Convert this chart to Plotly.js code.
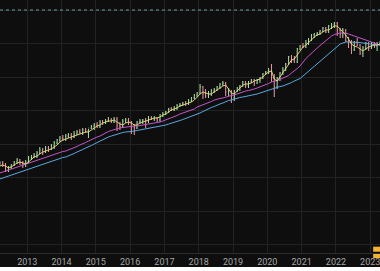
<!DOCTYPE html>
<html>
<head>
<meta charset="utf-8">
<script src="https://cdn.plot.ly/plotly-3.0.1.min.js"></script>
<style>
html,body{margin:0;padding:0;background:#ffffff;}
#chart{width:380px;height:267px;}
</style>
</head>
<body>
<div id="chart"></div>
<script>
// Monthly periods (mid-month positions)
const months = [
 '2012-03','2012-04','2012-05','2012-06','2012-07','2012-08','2012-09','2012-10','2012-11','2012-12',
 '2013-01','2013-02','2013-03','2013-04','2013-05','2013-06','2013-07','2013-08','2013-09','2013-10','2013-11','2013-12',
 '2014-01','2014-02','2014-03','2014-04','2014-05','2014-06','2014-07','2014-08','2014-09','2014-10','2014-11','2014-12',
 '2015-01','2015-02','2015-03','2015-04','2015-05','2015-06','2015-07','2015-08','2015-09','2015-10','2015-11','2015-12',
 '2016-01','2016-02','2016-03','2016-04','2016-05','2016-06','2016-07','2016-08','2016-09','2016-10','2016-11','2016-12',
 '2017-01','2017-02','2017-03','2017-04','2017-05','2017-06','2017-07','2017-08','2017-09','2017-10','2017-11','2017-12',
 '2018-01','2018-02','2018-03','2018-04','2018-05','2018-06','2018-07','2018-08','2018-09','2018-10','2018-11','2018-12',
 '2019-01','2019-02','2019-03','2019-04','2019-05','2019-06','2019-07','2019-08','2019-09','2019-10','2019-11','2019-12',
 '2020-01','2020-02','2020-03','2020-04','2020-05','2020-06','2020-07','2020-08','2020-09','2020-10','2020-11','2020-12',
 '2021-01','2021-02','2021-03','2021-04','2021-05','2021-06','2021-07','2021-08','2021-09','2021-10','2021-11','2021-12',
 '2022-01','2022-02','2022-03','2022-04','2022-05','2022-06','2022-07','2022-08','2022-09','2022-10','2022-11','2022-12',
 '2023-01','2023-02','2023-03','2023-04'
];

const openP = [
 1130,1150,1140,1080,1110,1130,1160,1180,1150,1130,
 1160,1200,1210,1230,1250,1280,1260,1300,1290,1320,1350,1380,
 1400,1390,1420,1430,1410,1440,1460,1450,1480,1470,1500,1520,
 1530,1510,1560,1550,1570,1580,1560,1590,1520,1510,1570,1580,
 1560,1510,1500,1560,1570,1580,1570,1600,1590,1600,1580,1620,
 1640,1660,1690,1680,1700,1720,1730,1750,1740,1770,1800,1830,
 1850,1910,1840,1820,1840,1870,1880,1910,1940,1950,1860,1870,
 1800,1870,1900,1920,1960,1920,1960,1980,1950,1980,2000,2040,
 2060,2070,2000,1910,2000,2050,2080,2140,2210,2180,2160,2290,
 2320,2310,2350,2380,2430,2440,2450,2470,2500,2460,2520,2530,
 2550,2480,2440,2480,2370,2360,2280,2360,2330,2250,2300,2350,
 2300,2340,2320,2340
];
const highP = [
 1170,1170,1150,1120,1140,1170,1200,1190,1170,1180,
 1220,1230,1250,1270,1310,1300,1320,1320,1340,1370,1390,1420,
 1430,1440,1450,1450,1470,1480,1490,1500,1500,1490,1530,1550,
 1560,1580,1580,1590,1610,1600,1610,1610,1560,1590,1600,1600,
 1570,1540,1570,1590,1590,1600,1620,1620,1620,1610,1640,1660,
 1670,1700,1710,1720,1740,1750,1760,1770,1790,1810,1840,1860,
 1940,1920,1890,1870,1890,1900,1920,1950,1970,1960,1900,1880,
 1880,1910,1930,1970,1970,1970,1990,1990,1990,2010,2050,2070,
 2100,2140,2040,2010,2060,2110,2150,2220,2230,2220,2300,2330,
 2350,2380,2400,2440,2450,2460,2480,2510,2510,2530,2550,2560,
 2560,2500,2500,2490,2410,2380,2370,2400,2340,2320,2360,2360,
 2360,2360,2360,2370
];
const lowP = [
 1120,1110,1060,1060,1090,1120,1140,1130,1100,1110,
 1150,1180,1200,1200,1240,1230,1250,1260,1280,1290,1340,1360,
 1370,1370,1400,1380,1400,1430,1440,1430,1450,1400,1490,1480,
 1500,1500,1530,1540,1560,1550,1550,1470,1480,1500,1550,1530,
 1440,1430,1490,1540,1540,1500,1550,1580,1570,1560,1560,1610,
 1630,1650,1670,1670,1680,1710,1720,1720,1730,1760,1790,1810,
 1840,1790,1800,1800,1820,1850,1870,1890,1920,1820,1820,1750,
 1770,1860,1870,1910,1900,1900,1950,1920,1940,1950,1990,2030,
 2040,1960,1810,1890,1970,2030,2070,2130,2150,2150,2150,2280,
 2300,2300,2330,2370,2400,2420,2430,2460,2450,2450,2490,2500,
 2420,2400,2400,2360,2300,2240,2270,2320,2230,2210,2280,2270,
 2290,2300,2270,2320
];
const closeP = [
 1150,1140,1080,1110,1130,1160,1180,1150,1130,1160,
 1200,1210,1230,1250,1280,1260,1300,1290,1320,1350,1380,1400,
 1390,1420,1430,1410,1440,1460,1450,1480,1470,1500,1520,1530,
 1510,1560,1550,1570,1580,1560,1590,1520,1510,1570,1580,1560,
 1510,1500,1560,1570,1580,1570,1600,1590,1600,1580,1620,1640,
 1660,1690,1680,1700,1720,1730,1750,1740,1770,1800,1830,1850,
 1910,1840,1820,1840,1870,1880,1910,1940,1950,1860,1870,1800,
 1870,1900,1920,1960,1920,1960,1980,1950,1980,2000,2040,2060,
 2070,2000,1910,2000,2050,2080,2140,2210,2180,2160,2290,2320,
 2310,2350,2380,2430,2440,2450,2470,2500,2460,2520,2530,2550,
 2480,2440,2480,2370,2360,2280,2360,2330,2250,2300,2350,2300,
 2340,2320,2340,2350
];

// Moving averages (fast, medium, slow)
const maFast = [
 1120,1130,1120,1100,1110,1130,1150,1160,1150,1140,
 1160,1190,1210,1220,1240,1260,1270,1280,1290,1310,1330,1360,
 1380,1390,1400,1410,1420,1430,1440,1450,1460,1460,1480,1500,
 1520,1530,1550,1560,1570,1570,1580,1560,1540,1530,1550,1560,
 1550,1530,1530,1550,1560,1570,1580,1590,1600,1600,1610,1630,
 1640,1660,1680,1690,1700,1720,1730,1740,1750,1760,1780,1810,
 1840,1860,1850,1840,1840,1860,1880,1900,1920,1930,1890,1850,
 1840,1870,1900,1930,1940,1940,1950,1970,1980,1990,2010,2040,
 2060,2070,1990,1970,2010,2050,2090,2140,2180,2190,2230,2280,
 2310,2330,2350,2380,2410,2430,2440,2460,2480,2480,2500,2520,
 2520,2490,2460,2430,2390,2340,2320,2310,2290,2270,2290,2310,
 2320,2330,2330,2340
];
const maMid = [
 1050,1060,1070,1080,1090,1100,1110,1120,1130,1140,
 1150,1160,1170,1180,1190,1200,1210,1215,1225,1235,1245,1255,
 1265,1270,1280,1290,1300,1315,1330,1340,1355,1370,1385,1400,
 1410,1420,1435,1450,1465,1475,1485,1495,1500,1505,1510,1510,
 1515,1520,1520,1525,1530,1530,1535,1540,1550,1555,1560,1570,
 1580,1590,1600,1610,1625,1640,1650,1660,1670,1680,1690,1710,
 1720,1730,1740,1750,1765,1780,1790,1795,1800,1810,1820,1825,
 1830,1840,1855,1865,1870,1875,1880,1890,1900,1910,1920,1935,
 1945,1960,1965,1975,1985,2000,2010,2025,2050,2070,2095,2120,
 2160,2195,2220,2250,2275,2300,2325,2350,2375,2400,2420,2435,
 2445,2450,2450,2450,2440,2430,2420,2410,2395,2385,2375,2365,
 2355,2345,2340,2330
];
const maSlow = [
 990,1000,1010,1020,1030,1040,1050,1060,1070,1080,
 1090,1100,1110,1120,1130,1140,1150,1160,1165,1175,1185,1195,
 1205,1210,1220,1230,1245,1260,1270,1285,1300,1310,1325,1340,
 1355,1370,1385,1400,1410,1420,1430,1440,1450,1455,1460,1460,
 1465,1470,1475,1480,1485,1490,1495,1500,1505,1510,1515,1520,
 1530,1540,1550,1560,1570,1575,1585,1595,1605,1615,1625,1635,
 1650,1665,1680,1695,1705,1715,1730,1740,1750,1765,1775,1780,
 1790,1795,1805,1810,1815,1820,1825,1830,1840,1850,1860,1870,
 1880,1890,1895,1905,1915,1920,1930,1940,1955,1970,1980,1995,
 2020,2045,2070,2095,2120,2145,2170,2195,2220,2245,2270,2295,
 2320,2340,2350,2360,2360,2360,2360,2360,2355,2350,2345,2340,
 2335,2330,2330,2330
];

const refLevel = [2680];
const xRange = ['2012-03-17', '2023-04-15'];
const yRange = [250, 2780];

const dates = months.map(m => m + '-15');

const traces = [
  {
    type: 'scatter', mode: 'lines', x: dates, y: maSlow,
    line: {color: '#5aa8e0', width: 1}, hoverinfo: 'skip'
  },
  {
    type: 'scatter', mode: 'lines', x: dates, y: maMid,
    line: {color: '#c455c8', width: 1}, hoverinfo: 'skip'
  },
  {
    type: 'ohlc', x: dates, open: openP, high: highP, low: lowP, close: closeP,
    increasing: {line: {color: '#a8dfa8', width: 1}},
    decreasing: {line: {color: '#ee97a4', width: 1}},
    tickwidth: 0.25, hoverinfo: 'skip'
  },
  {
    type: 'scatter', mode: 'lines', x: dates, y: maFast,
    line: {color: '#ece07a', width: 1}, opacity: 0.9, hoverinfo: 'skip'
  }
];

const layout = {
  width: 380, height: 267,
  margin: {l: 0, r: 0, t: 0, b: 14, pad: 0},
  paper_bgcolor: '#0e0e0e',
  plot_bgcolor: '#0e0e0e',
  showlegend: false,
  xaxis: {
    type: 'date', range: xRange,
    dtick: 'M12', tick0: '2012-01-01', tickformat: '%Y',
    showgrid: true, gridcolor: '#222222', gridwidth: 1,
    showline: true, linecolor: '#2e2e2e', linewidth: 1,
    ticks: '', zeroline: false, ticklabeloverflow: 'allow',
    rangeslider: {visible: false},
    tickfont: {family: 'Roboto, sans-serif', size: 9, color: '#a6a6a6'}
  },
  yaxis: {
    range: yRange, tick0: 0, dtick: 335,
    showgrid: true, gridcolor: '#222222', gridwidth: 1,
    showticklabels: false, zeroline: false, ticks: ''
  },
  shapes: [
    {type: 'line', xref: 'paper', x0: 0, x1: 1, yref: 'y', y0: refLevel[0], y1: refLevel[0],
     line: {color: '#6f9a9a', width: 1, dash: '3px,3px'}},
    {type: 'rect', xref: 'paper', yref: 'paper', x0: 0.982, x1: 1.0, y0: 0.005, y1: 0.025,
     fillcolor: '#f2b234', line: {width: 0}},
    {type: 'rect', xref: 'paper', yref: 'paper', x0: 0.982, x1: 1.0, y0: -0.02, y1: -0.004,
     fillcolor: '#f2b234', line: {width: 0}}
  ]
};

Plotly.newPlot('chart', traces, layout, {staticPlot: true, displayModeBar: false});
</script>
</body>
</html>
